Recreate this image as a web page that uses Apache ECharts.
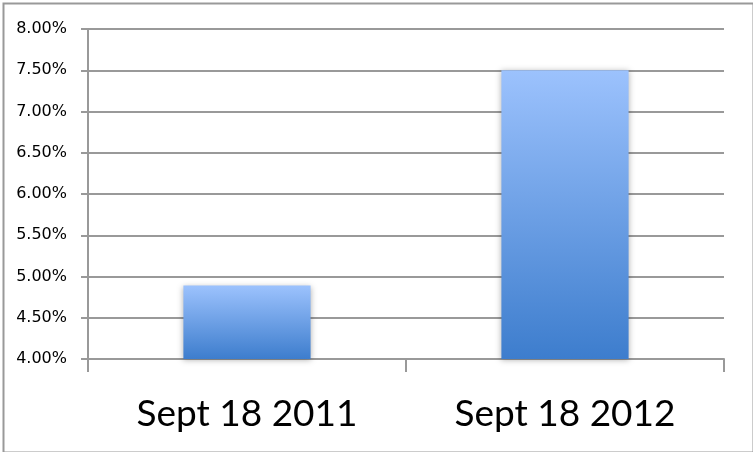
<!DOCTYPE html>
<html><head><meta charset="utf-8">
<style>html,body{margin:0;padding:0;background:#fff}#c{width:753px;height:452px}</style>
<script src="https://cdn.jsdelivr.net/npm/echarts@6/dist/echarts.min.js"></script>
</head><body><div id="c"></div>
<script>
const categories = ['Sept 18 2011', 'Sept 18 2012'];
const rates = [4.89, 7.50];
const yMin = 4.0, yMax = 8.0, yStep = 0.5;

const chart = echarts.init(document.getElementById('c'));
chart.setOption({
  animation: false,
  backgroundColor: '#fff',
  graphic: [{
    type: 'rect', left: 1, top: 1, shape: {width: 750, height: 449},
    style: {fill: 'none', stroke: '#999', lineWidth: 2}
  }],
  grid: {left: 88, right: 29, top: 29, bottom: 93},
  xAxis: {
    type: 'category', data: categories, boundaryGap: true,
    axisLine: {lineStyle: {color: '#999', width: 2}},
    axisTick: {show: true, length: 13, lineStyle: {color: '#999', width: 2}},
    axisLabel: {color: '#000', fontFamily: 'Lato', fontSize: 37, margin: 37}
  },
  yAxis: {
    type: 'value', min: yMin, max: yMax, interval: yStep,
    axisLine: {show: true, lineStyle: {color: '#999', width: 2}},
    axisTick: {show: true, length: 7, lineStyle: {color: '#999', width: 2}},
    splitLine: {lineStyle: {color: '#999', width: 2}},
    axisLabel: {color: '#000', fontFamily: 'DejaVu Sans', fontSize: 16, margin: 21,
      formatter: v => v.toFixed(2) + '%'}
  },
  series: [{
    type: 'bar', data: rates, barWidth: '40%',
    itemStyle: {
      color: new echarts.graphic.LinearGradient(0, 0, 0, 1, [
        {offset: 0, color: '#9cc2fd'},
        {offset: 1, color: '#3d7dcd'}
      ]),
      shadowBlur: 6, shadowColor: 'rgba(0,0,0,0.3)', shadowOffsetY: 1
    }
  }]
});
</script></body></html>
